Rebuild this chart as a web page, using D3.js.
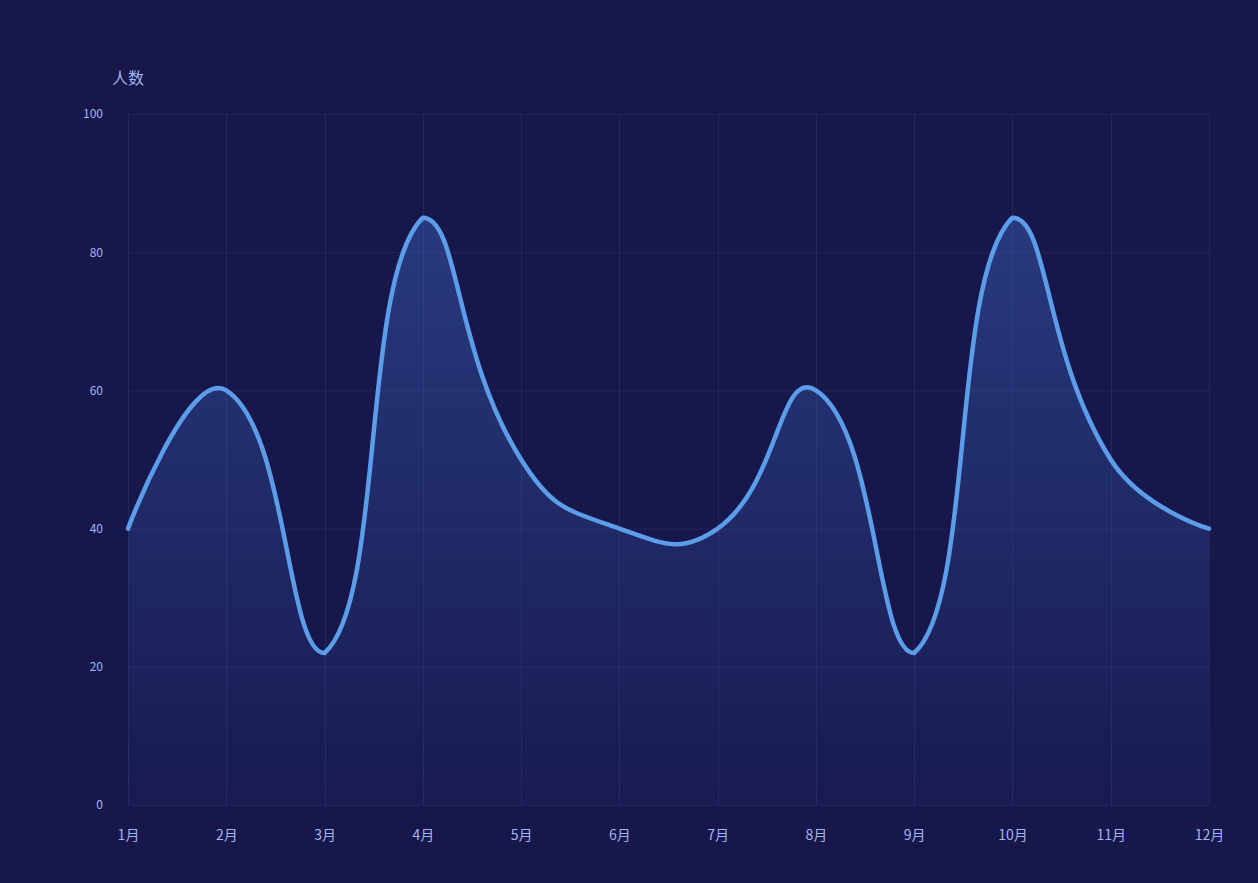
<!DOCTYPE html>
<html>
<head>
<meta charset="utf-8">
<script src="https://cdn.jsdelivr.net/npm/d3@7/dist/d3.min.js"></script>
<style>
  html, body { margin: 0; padding: 0; background: #17174c; }
  svg { display: block; }
  text { font-family: "Noto Sans CJK SC", "Noto Sans", sans-serif; }
</style>
</head>
<body>
<svg id="chart" width="1258" height="883"></svg>
<script>
const categories = ["1月","2月","3月","4月","5月","6月","7月","8月","9月","10月","11月","12月"];
const values = [40, 60, 22, 85, 50, 40, 40, 60, 22, 85, 50, 40];
const yTicks = [0, 20, 40, 60, 80, 100];
const yAxisName = "人数";

const W = 1258, H = 883;
const margin = { left: 128, right: 49, top: 114, bottom: 78 };
const svg = d3.select("#chart");

const x = d3.scalePoint().domain(categories).range([margin.left, W - margin.right]);
const y = d3.scaleLinear().domain([0, 100]).range([H - margin.bottom, margin.top]);

// ECharts-like smoothing curve (smooth = 0.5, global bbox constraint)
function EchartsSmooth(context, smooth) { this._context = context; this._smooth = smooth; }
EchartsSmooth.prototype = {
  areaStart() { this._line = 0; },
  areaEnd() { this._line = NaN; },
  lineStart() { this._pts = []; },
  point(px, py) { this._pts.push([+px, +py]); },
  lineEnd() {
    const p = this._pts, n = p.length, ctx = this._context, s = this._smooth;
    if (n) {
      const minX = d3.min(p, d => d[0]), maxX = d3.max(p, d => d[0]);
      const minY = d3.min(p, d => d[1]), maxY = d3.max(p, d => d[1]);
      const cl = (c) => [Math.max(minX, Math.min(maxX, c[0])), Math.max(minY, Math.min(maxY, c[1]))];
      if (this._line) ctx.lineTo(p[0][0], p[0][1]); else ctx.moveTo(p[0][0], p[0][1]);
      let cp0 = p[0];
      for (let i = 1; i < n; i++) {
        const [cx, cy] = p[i], [px, py] = p[i - 1];
        let cp1, next = [cx, cy];
        if (i === n - 1) {
          cp1 = [cx, cy];
        } else {
          const [nx, ny] = p[i + 1];
          const vx = nx - px, vy = ny - py;
          const l0 = Math.hypot(cx - px, cy - py), l1 = Math.hypot(nx - cx, ny - cy);
          const r = (l0 + l1) ? l1 / (l0 + l1) : 0.5;
          cp1 = [cx - vx * s * (1 - r), cy - vy * s * (1 - r)];
          next = [cx + vx * s * r, cy + vy * s * r];
        }
        cp0 = cl(cp0); cp1 = cl(cp1);
        ctx.bezierCurveTo(cp0[0], cp0[1], cp1[0], cp1[1], cx, cy);
        cp0 = next;
      }
    }
    if (this._line || (this._line !== 0 && n === 1)) ctx.closePath();
    this._line = 1 - this._line;
  }
};
const curveEcharts = (context) => new EchartsSmooth(context, 0.5);

// gradient
const defs = svg.append("defs");
const grad = defs.append("linearGradient").attr("id", "areaGrad")
  .attr("gradientUnits", "userSpaceOnUse")
  .attr("x1", 0).attr("x2", 0)
  .attr("y1", y(d3.max(values))).attr("y2", y(0));
grad.append("stop").attr("offset", "0%").attr("stop-color", "rgb(64,110,200)").attr("stop-opacity", 0.4);
grad.append("stop").attr("offset", "100%").attr("stop-color", "rgb(64,110,200)").attr("stop-opacity", 0.04);

// grid lines
const gridColor = "rgba(120,130,210,0.13)";
svg.append("g").selectAll("line.h").data(yTicks).join("line")
  .attr("x1", margin.left).attr("x2", W - margin.right)
  .attr("y1", d => y(d) + 0.5).attr("y2", d => y(d) + 0.5)
  .attr("stroke", gridColor).attr("stroke-width", 1);
svg.append("g").selectAll("line.v").data(categories).join("line")
  .attr("x1", d => Math.round(x(d)) + 0.5).attr("x2", d => Math.round(x(d)) + 0.5)
  .attr("y1", margin.top).attr("y2", H - margin.bottom)
  .attr("stroke", gridColor).attr("stroke-width", 1);

// area + line
const data = categories.map((c, i) => ({ c, v: values[i] }));
const area = d3.area().x(d => x(d.c)).y0(y(0)).y1(d => y(d.v)).curve(curveEcharts);
const line = d3.line().x(d => x(d.c)).y(d => y(d.v)).curve(curveEcharts);

svg.append("path").datum(data).attr("d", area).attr("fill", "url(#areaGrad)");
svg.append("path").datum(data).attr("d", line)
  .attr("fill", "none").attr("stroke", "#5b9de8").attr("stroke-width", 4.5)
  .attr("stroke-linejoin", "round").attr("stroke-linecap", "round");

// axes labels
const labelColor = "#a3b6ec";
const yAxis = d3.axisLeft(y).tickValues(yTicks).tickSize(0).tickPadding(25);
const gy = svg.append("g").attr("transform", `translate(${margin.left},0)`).call(yAxis);
gy.select(".domain").remove();
gy.selectAll("text").attr("fill", labelColor).attr("font-size", 12)
  .attr("font-family", "'Noto Sans CJK SC', 'Noto Sans', sans-serif");

const xAxis = d3.axisBottom(x).tickSize(0).tickPadding(25);
const gx = svg.append("g").attr("transform", `translate(0,${H - margin.bottom})`).call(xAxis);
gx.select(".domain").remove();
gx.selectAll("text").attr("fill", labelColor).attr("font-size", 14)
  .attr("font-family", "'Noto Sans CJK SC', 'Noto Sans', sans-serif");

svg.append("text").attr("x", 128).attr("y", 78).attr("dy", "0.35em")
  .attr("text-anchor", "middle").attr("fill", labelColor).attr("font-size", 16)
  .text(yAxisName);
</script>
</body>
</html>
